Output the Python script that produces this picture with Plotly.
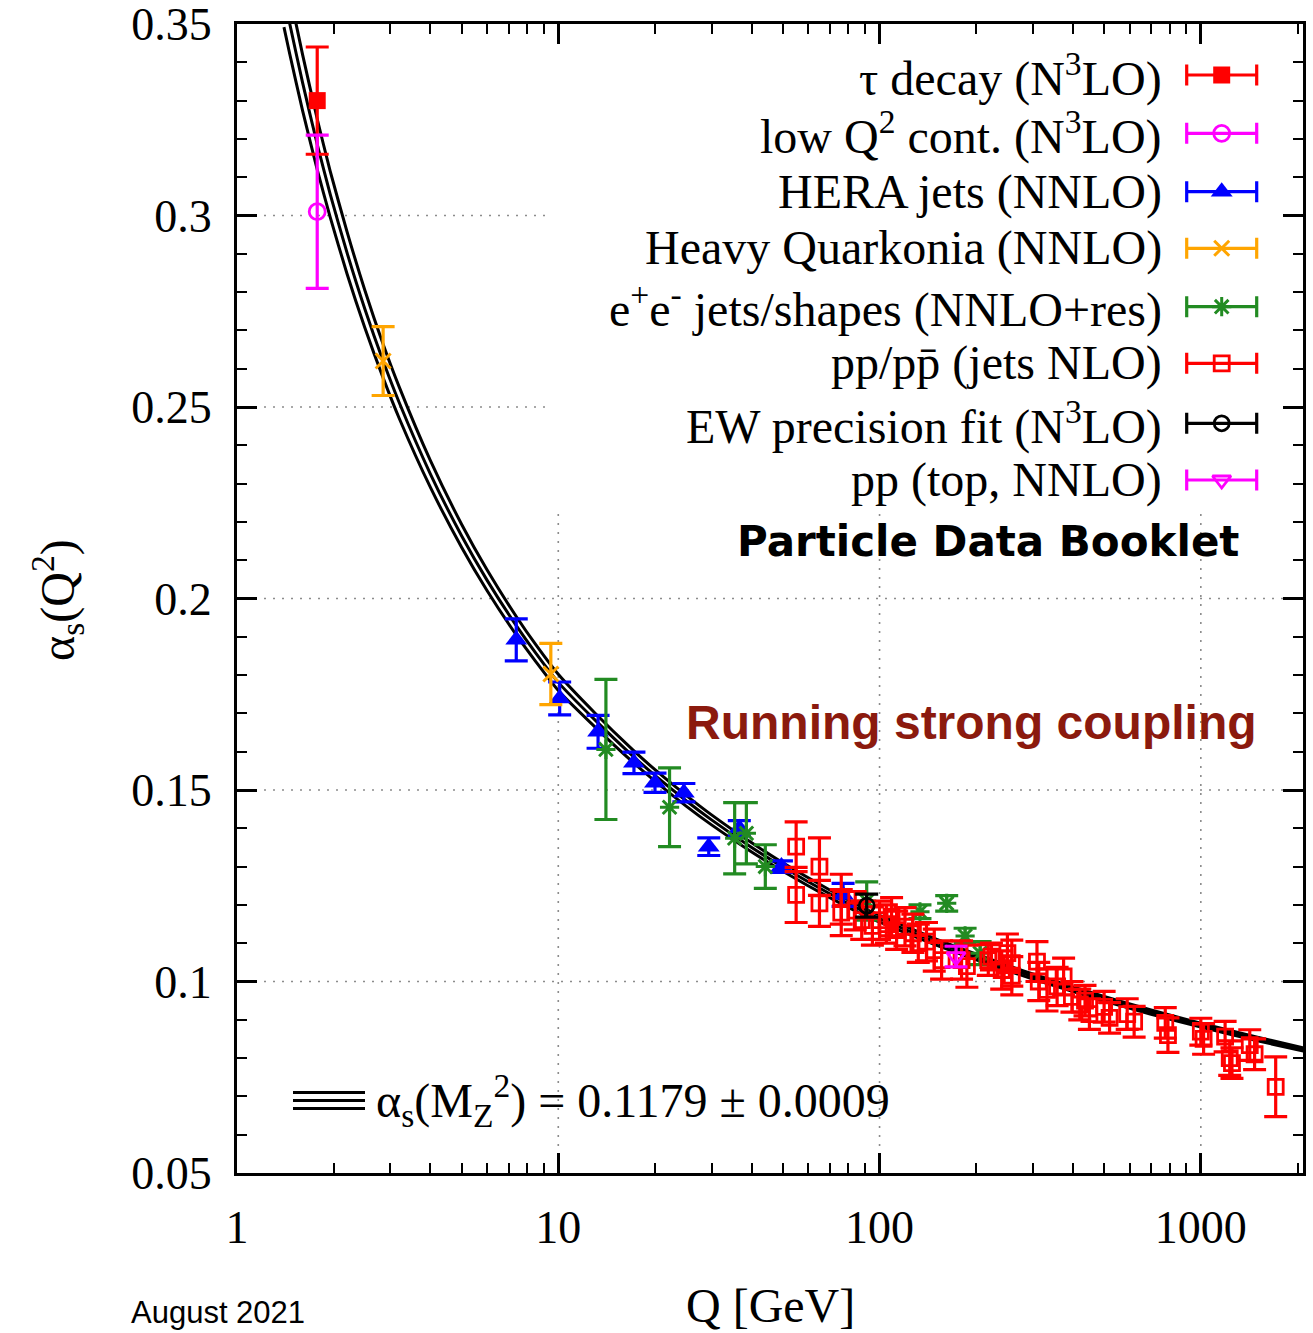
import plotly.graph_objects as go

# ---------------- data ----------------
# theory curve alpha_s(Q) with its +-1 sigma band
curve_Q = [1.40, 1.46, 1.6, 1.777, 1.95, 2.2, 2.5, 2.85, 3.2, 4.0, 5.0, 6.0, 7.4, 8.5, 10,
           13, 17, 20, 25, 30, 40, 50, 70, 91.19, 120, 150, 200, 300, 500, 700, 1000, 1500, 2100]
curve_mid = [0.3575, 0.3500, 0.3347, 0.3186, 0.3056, 0.2903, 0.2756, 0.2620, 0.2511, 0.2325,
             0.2164, 0.2048, 0.1929, 0.1858, 0.1781, 0.1683, 0.1590, 0.1538, 0.1472, 0.1422,
             0.1350, 0.1299, 0.1229, 0.1179, 0.1136, 0.1103, 0.1064, 0.1013, 0.0955, 0.0920,
             0.0886, 0.0850, 0.0822]
curve_hi = [0.3658, 0.3579, 0.3420, 0.3252, 0.3116, 0.2958, 0.2805, 0.2664, 0.2552, 0.2360,
            0.2194, 0.2075, 0.1953, 0.1880, 0.1802, 0.1701, 0.1606, 0.1553, 0.1486, 0.1435,
            0.1362, 0.1310, 0.1239, 0.1188, 0.11444, 0.11109, 0.10713, 0.10196, 0.09609,
            0.09255, 0.08911, 0.08547, 0.08264]
curve_lo = [0.3492, 0.3421, 0.3274, 0.3120, 0.2996, 0.2848, 0.2707, 0.2576, 0.2470, 0.2290,
            0.2134, 0.2021, 0.1905, 0.1836, 0.1760, 0.1665, 0.1574, 0.1523, 0.1458, 0.1409,
            0.1338, 0.1288, 0.1219, 0.1170, 0.11276, 0.10951, 0.10567, 0.10064, 0.09491,
            0.09145, 0.08809, 0.08453, 0.08176]

tau_Q = [1.777]
tau_a = [0.330]
tau_e = [0.014]

lowq_Q = [1.777]
lowq_a = [0.301]
lowq_e = [0.020]

hera_Q = [7.4, 10.1, 13.3, 17.2, 20.0, 24.6, 29.4, 36.6, 49.5, 77.0]
hera_a = [0.1892, 0.1739, 0.1652, 0.1571, 0.1519, 0.1493, 0.1352, 0.1400, 0.1300, 0.1226]
hera_e = [0.0055, 0.0043, 0.0043, 0.0028, 0.0025, 0.0024, 0.0023, 0.0020, 0.0015, 0.0030]

quark_Q = [2.85, 9.48]
quark_a = [0.262, 0.1803]
quark_e = [0.009, 0.008]

ee_Q = [14.07, 22.2, 35.4, 38.5, 44.1, 91.2, 133.6, 161.8, 184.6, 205.6]
ee_a = [0.1606, 0.1455, 0.1374, 0.1387, 0.1300, 0.1210, 0.1182, 0.1204, 0.1119, 0.1074]
ee_e = [0.0183, 0.0103, 0.0093, 0.0080, 0.0057, 0.0050, 0.0018, 0.0020, 0.0020, 0.0030]

pp_Q = [55, 55, 65, 65, 76, 76, 84, 88, 95, 100,
        105, 109, 113, 120, 127, 132, 140, 148, 156, 180,
        187, 218, 223, 240, 250, 258, 258, 309, 313, 332,
        357, 374, 397, 420, 436, 450, 500, 520, 590, 620,
        775, 790, 1000, 1020, 1190, 1230, 1250, 1420, 1470, 1710]
pp_a = [0.1352, 0.1226, 0.1300, 0.1204, 0.1215, 0.1180, 0.1185, 0.1160, 0.1145, 0.1160,
        0.1150, 0.1169, 0.1134, 0.1143, 0.1126, 0.1100, 0.1104, 0.1082, 0.1056, 0.1056,
        0.1040, 0.1056, 0.1065, 0.1030, 0.1074, 0.1015, 0.1048, 0.1052, 0.1000, 0.0978,
        0.0987, 0.1013, 0.0960, 0.0940, 0.0950, 0.0915, 0.0934, 0.0905, 0.0915, 0.0895,
        0.0892, 0.0860, 0.0869, 0.0850, 0.0856, 0.0800, 0.0787, 0.0834, 0.0810, 0.0725]
pp_e = [0.0065, 0.0072, 0.0075, 0.0060, 0.0065, 0.0060, 0.0050, 0.0050, 0.0050, 0.0050,
        0.0050, 0.0050, 0.0050, 0.0050, 0.0050, 0.0050, 0.0050, 0.0055, 0.0050, 0.0050,
        0.0055, 0.0040, 0.0035, 0.0050, 0.0050, 0.0050, 0.0060, 0.0052, 0.0050, 0.0055,
        0.0050, 0.0048, 0.0040, 0.0040, 0.0040, 0.0040, 0.0040, 0.0040, 0.0040, 0.0040,
        0.0040, 0.0045, 0.0035, 0.0040, 0.0040, 0.0045, 0.0040, 0.0040, 0.0040, 0.0078]

ew_Q = [91.19]
ew_a = [0.1198]
ew_e = [0.0030]

top_Q = [173.0]
top_a = [0.1065]
top_e = [0.0027]

x_ticks = [1, 10, 100, 1000]
x_ticktext = ["1", "10", "100", "1000"]
x_minor = [2, 3, 4, 5, 6, 7, 8, 9, 20, 30, 40, 50, 60, 70, 80, 90,
           200, 300, 400, 500, 600, 700, 800, 900, 2000]
y_ticks = [0.05, 0.1, 0.15, 0.2, 0.25, 0.3, 0.35]
y_ticktext = ["0.05", "0.1", "0.15", "0.2", "0.25", "0.3", "0.35"]

legend_labels = [
    "τ decay (N<sup>3</sup>LO)",
    "low Q<sup>2</sup> cont. (N<sup>3</sup>LO)",
    "HERA jets (NNLO)",
    "Heavy Quarkonia (NNLO)",
    "e<sup>+</sup>e<sup>-</sup> jets/shapes (NNLO+res)",
    "pp/pp\u0304 (jets NLO)",
    "EW precision fit (N<sup>3</sup>LO)",
    "pp (top, NNLO)",
]

# ---------------- layout geometry (pixels) ----------------
W, H = 1313, 1333
L, R, T, B = 237, 10, 24, 160
PW, PH = W - L - R, H - T - B
XMAX_LOG = 3.318


def px(x):
    return (x - L) / PW


def py(y):
    return (H - B - y) / PH


SERIF = "Liberation Serif, Times New Roman, serif"
SANS = "Liberation Sans, Arial, sans-serif"
FS = 48
FT = 46

fig = go.Figure()

# theory band: three black lines
for arr in (curve_hi, curve_lo, curve_mid):
    fig.add_trace(go.Scatter(x=curve_Q, y=arr, mode="lines",
                             line=dict(color="black", width=3, shape="spline", smoothing=0.6),
                             hoverinfo="skip", showlegend=False))

ERR_T = 3.2
CAP = 11.5

series = [
    (tau_Q, tau_a, tau_e, "#ff0000", "square", 17, 0),
    (lowq_Q, lowq_a, lowq_e, "#ff00ff", "circle-open", 16, 2.8),
    (hera_Q, hera_a, hera_e, "#0000ff", "triangle-up", 19, 0),
    (quark_Q, quark_a, quark_e, "#ffa500", "x-thin-open", 15, 3),
    (ee_Q, ee_a, ee_e, "#228b22", "asterisk-open", 16, 3),
    (pp_Q, pp_a, pp_e, "#ff0000", "square-open", 15, 2.8),
    (ew_Q, ew_a, ew_e, "#000000", "circle-open", 15, 2.8),
    (top_Q, top_a, top_e, "#ff00ff", "triangle-down-open", 16, 2.8),
]

for (xq, ya, ye, col, sym, size, lw) in series:
    fig.add_trace(go.Scatter(
        x=xq, y=ya, mode="markers",
        marker=dict(symbol=sym, size=size, color=col, line=dict(color=col, width=lw)),
        error_y=dict(type="data", array=ye, visible=True, color=col, thickness=ERR_T, width=CAP),
        hoverinfo="skip", showlegend=False, cliponaxis=False))

# custom legend (symbol with horizontal error bar on the right of the text)
row_y = [75, 133.3, 191.7, 248.3, 306.7, 363.3, 423.3, 480]
sample_x = px(1221.7)
sample_half = 35 / PW
annotations = []
for (xq, ya, ye, col, sym, size, lw), lab, ry in zip(series, legend_labels, row_y):
    fig.add_trace(go.Scatter(
        x=[sample_x], y=[py(ry)], xaxis="x2", yaxis="y2", mode="markers",
        marker=dict(symbol=sym, size=size, color=col, line=dict(color=col, width=lw)),
        error_x=dict(type="constant", value=sample_half, visible=True, color=col,
                     thickness=ERR_T, width=CAP - 1),
        hoverinfo="skip", showlegend=False, cliponaxis=False))
    annotations.append(dict(x=px(1164), y=py(ry), xref="paper", yref="paper",
                            xanchor="right", yanchor="middle", showarrow=False, text=lab,
                            font=dict(family=SERIF, size=FS, color="black")))

annotations += [
    dict(x=px(1241), y=py(541), xref="paper", yref="paper", xanchor="right", yanchor="middle",
         showarrow=False, text="<b>Particle Data Booklet</b>",
         font=dict(family="DejaVu Sans, Verdana, sans-serif", size=42, color="black")),
    dict(x=px(1259), y=py(722), xref="paper", yref="paper", xanchor="right", yanchor="middle",
         showarrow=False, text="<b>Running strong coupling</b>",
         font=dict(family=SANS, size=48, color="#8b1a0e")),
    dict(x=px(374), y=py(1100), xref="paper", yref="paper", xanchor="left", yanchor="middle",
         showarrow=False,
         text="α<sub>s</sub>(M<sub>Z</sub><sup>2</sup>) = 0.1179 ± 0.0009",
         font=dict(family=SERIF, size=FS, color="black")),
    dict(x=px(770), y=py(1305), xref="paper", yref="paper", xanchor="center", yanchor="middle",
         showarrow=False, text="Q [GeV]", font=dict(family=SERIF, size=FS, color="black")),
    dict(x=px(57), y=py(600), xref="paper", yref="paper", xanchor="center", yanchor="middle",
         showarrow=False, textangle=-90, text="α<sub>s</sub>(Q<sup>2</sup>)",
         font=dict(family=SERIF, size=FS, color="black")),
    dict(x=px(129), y=py(1312), xref="paper", yref="paper", xanchor="left", yanchor="middle",
         showarrow=False, text="August 2021", font=dict(family=SANS, size=31, color="black")),
]

# grid lines (dotted), masked by the key area at top right like the original
GRID = dict(color="#8c8c8c", width=1.6, dash="2px,7px")
y_key_bottom = 0.05 + (H - B - 510) / PH * 0.30
x_key_left = 10 ** ((545 - L) / PW * XMAX_LOG)
shapes = []
for xv in [10, 100, 1000]:
    shapes.append(dict(type="line", xref="x", yref="y", x0=xv, x1=xv, y0=0.05, y1=y_key_bottom,
                       line=GRID, layer="below"))
for yv in [0.1, 0.15, 0.2]:
    shapes.append(dict(type="line", xref="x", yref="y", x0=1, x1=10 ** XMAX_LOG, y0=yv, y1=yv,
                       line=GRID, layer="below"))
for yv in [0.25, 0.3]:
    shapes.append(dict(type="line", xref="x", yref="y", x0=1, x1=x_key_left, y0=yv, y1=yv,
                       line=GRID, layer="below"))
# band key lines
for yy in (1092.5, 1100.5, 1108.5):
    shapes.append(dict(type="line", xref="paper", yref="paper", x0=px(293), x1=px(365),
                       y0=py(yy), y1=py(yy), line=dict(color="black", width=3)))

fig.update_layout(
    width=W, height=H, margin=dict(l=L, r=R, t=T, b=B, autoexpand=False),
    paper_bgcolor="white", plot_bgcolor="white", showlegend=False,
    xaxis=dict(type="log", range=[0, XMAX_LOG], tickvals=x_ticks, ticktext=x_ticktext,
               ticks="inside", ticklen=20, tickwidth=2.5, tickcolor="black",
               showline=True, linewidth=3, linecolor="black", mirror="allticks",
               showgrid=False, zeroline=False, ticklabelstandoff=12,
               ticklabeloverflow="allow",
               tickfont=dict(family=SERIF, size=FT, color="black"),
               minor=dict(tickvals=x_minor, ticks="inside", ticklen=10, tickwidth=2,
                          tickcolor="black", showgrid=False)),
    yaxis=dict(range=[0.05, 0.350002], tickvals=y_ticks, ticktext=y_ticktext,
               ticks="inside", ticklen=20, tickwidth=2.5, tickcolor="black",
               showline=True, linewidth=3, linecolor="black", mirror="allticks",
               showgrid=False, zeroline=False, ticklabelstandoff=13,
               ticklabeloverflow="allow",
               tickfont=dict(family=SERIF, size=FT, color="black"),
               minor=dict(dtick=0.01, ticks="inside", ticklen=10, tickwidth=2,
                          tickcolor="black", showgrid=False)),
    xaxis2=dict(overlaying="x", range=[0, 1], visible=False, fixedrange=True),
    yaxis2=dict(overlaying="y", range=[0, 1], visible=False, fixedrange=True),
    annotations=annotations,
    shapes=shapes,
)

fig.write_html("out.html")
